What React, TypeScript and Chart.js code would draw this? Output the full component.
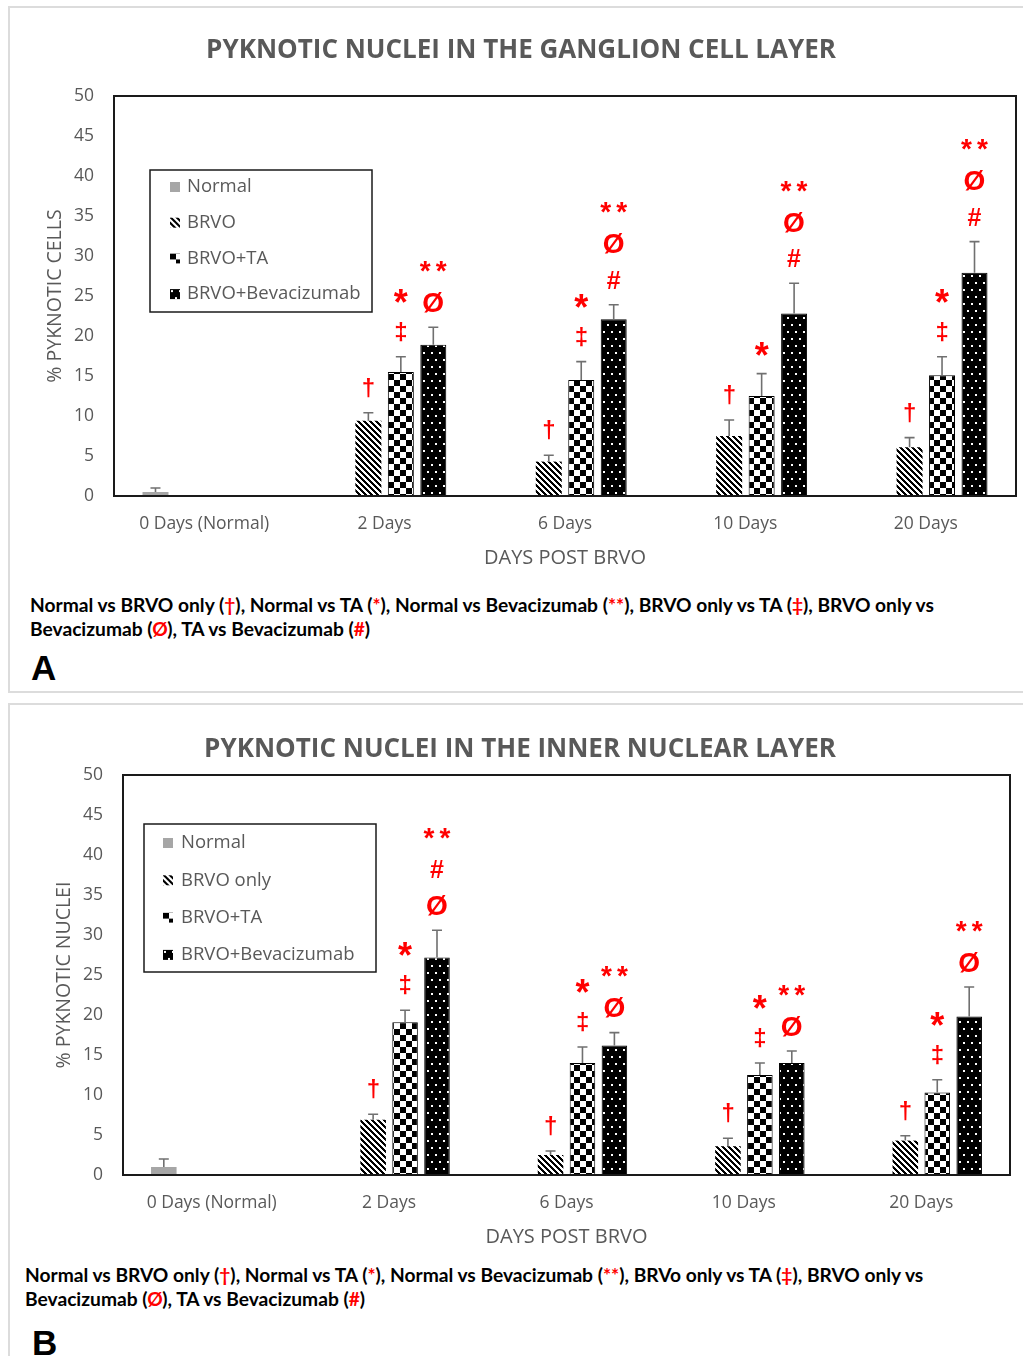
import React, { useEffect, useRef } from "react";
import { Chart, registerables } from "chart.js";
Chart.register(...registerables);

// ---------- shared ----------
const categories = ["0 Days (Normal)", "2 Days", "6 Days", "10 Days", "20 Days"];
const xAxisTitle = "DAYS POST BRVO";
const yMin = 0;
const yMax = 50;
const yStep = 5;

// ---------- panel A : ganglion cell layer ----------
const titleA = "PYKNOTIC NUCLEI IN THE GANGLION CELL LAYER";
const yTitleA = "% PYKNOTIC CELLS";
const seriesA = ["Normal", "BRVO", "BRVO+TA", "BRVO+Bevacizumab"];
const normalA = [0.5, null, null, null, null];
const brvoA = [null, 9.4, 4.3, 7.5, 6.1];
const taA = [null, 15.5, 14.5, 12.5, 15.1];
const bevA = [null, 18.9, 22.1, 22.8, 27.9];
const normalErrA = [0.5, 0, 0, 0, 0];
const brvoErrA = [0, 1.0, 0.8, 2.0, 1.2];
const taErrA = [0, 1.9, 2.3, 2.8, 2.3];
const bevErrA = [0, 2.2, 1.8, 3.8, 3.9];
const brvoSigA = [[], ["†"], ["†"], ["†"], ["†"]];
const taSigA = [[], ["*", "‡"], ["*", "‡"], ["*"], ["*", "‡"]];
const bevSigA = [[], ["**", "Ø"], ["**", "Ø", "#"], ["**", "Ø", "#"], ["**", "Ø", "#"]];

// ---------- panel B : inner nuclear layer ----------
const titleB = "PYKNOTIC NUCLEI IN THE INNER NUCLEAR LAYER";
const yTitleB = "% PYKNOTIC NUCLEI";
const seriesB = ["Normal", "BRVO only", "BRVO+TA", "BRVO+Bevacizumab"];
const normalB = [1.0, null, null, null, null];
const brvoB = [null, 6.9, 2.5, 3.6, 4.3];
const taB = [null, 19.1, 14.0, 12.5, 10.3];
const bevB = [null, 27.2, 16.2, 14.0, 19.8];
const normalErrB = [1.0, 0, 0, 0, 0];
const brvoErrB = [0, 0.7, 0.5, 1.0, 0.6];
const taErrB = [0, 1.5, 2.0, 1.5, 1.6];
const bevErrB = [0, 3.4, 1.6, 1.5, 3.7];
const brvoSigB = [[], ["†"], ["†"], ["†"], ["†"]];
const taSigB = [[], ["*", "‡"], ["*", "‡"], ["*", "‡"], ["*", "‡"]];
const bevSigB = [[], ["**", "#", "Ø"], ["**", "Ø"], ["**", "Ø"], ["**", "Ø"]];

const GRAY_TEXT = "#595959";
const FONT = "'Open Sans', 'DejaVu Sans', sans-serif";
const MARK_FONT = "'Liberation Sans', Arial, sans-serif";

type Panel = {
  title: string;
  yTitle: string;
  labels: string[];
  values: (number | null)[][];
  errs: number[][];
  sigs: string[][][];
  geo: any;
};

const panelA: Panel = {
  title: titleA,
  yTitle: yTitleA,
  labels: seriesA,
  values: [normalA, brvoA, taA, bevA],
  errs: [normalErrA, brvoErrA, taErrA, bevErrA],
  sigs: [[], brvoSigA, taSigA, bevSigA],
  geo: {
    left: 10, top: 8, width: 1013, height: 572,
    padTop: 88, padRight: 7, yAxisWidth: 104, xAxisHeight: 84,
    titleX: 511, titleY: 42.5, yTitlePad: 34, xTickPad: 18, xTitlePadBottom: 10,
    legend: { x: 140, y: 162, w: 222, h: 142, row0: 179, step: 35.7, swX: 160, txX: 177 },
  },
};

const panelB: Panel = {
  title: titleB,
  yTitle: yTitleB,
  labels: seriesB,
  values: [normalB, brvoB, taB, bevB],
  errs: [normalErrB, brvoErrB, taErrB, bevErrB],
  sigs: [[], brvoSigB, taSigB, bevSigB],
  geo: {
    left: 10, top: 705, width: 1013, height: 550,
    padTop: 70, padRight: 13, yAxisWidth: 113, xAxisHeight: 80,
    titleX: 510, titleY: 45, yTitlePad: 43, xTickPad: 18, xTitlePadBottom: 6,
    legend: { x: 134, y: 119, w: 232, h: 148, row0: 138, step: 37.3, swX: 153, txX: 171 },
  },
};

function makePattern(w: number, h: number, paint: (x: number, y: number) => boolean, on: number[], off: number[]) {
  const c = document.createElement("canvas");
  c.width = w;
  c.height = h;
  const ctx = c.getContext("2d")!;
  const img = ctx.createImageData(w, h);
  for (let y = 0; y < h; y++) {
    for (let x = 0; x < w; x++) {
      const i = (y * w + x) * 4;
      const col = paint(x, y) ? on : off;
      img.data[i] = col[0];
      img.data[i + 1] = col[1];
      img.data[i + 2] = col[2];
      img.data[i + 3] = 255;
    }
  }
  ctx.putImageData(img, 0, 0);
  return ctx.createPattern(c, "repeat")!;
}

function makeFills(): (string | CanvasPattern)[] {
  const black = [0, 0, 0];
  const white = [255, 255, 255];
  const stripes = makePattern(6, 6, (x, y) => ((x - y + 60) % 6) < 3, black, white);
  const checker = makePattern(12, 12, (x, y) => ((Math.floor(x / 6) + Math.floor(y / 6)) % 2) === 0, black, white);
  const dots = makePattern(
    8, 14,
    (x, y) => (x >= 1 && x <= 2 && y >= 1 && y <= 2) || (x >= 5 && x <= 6 && y >= 8 && y <= 9),
    white, black
  );
  return ["#a6a6a6", stripes, checker, dots];
}

function drawGlyph(ctx: CanvasRenderingContext2D, text: string, cx: number, cy: number, size: number) {
  ctx.font = `bold ${size}px ${MARK_FONT}`;
  ctx.textAlign = "left";
  ctx.textBaseline = "alphabetic";
  const m = ctx.measureText(text);
  const x = cx - (m.actualBoundingBoxRight - m.actualBoundingBoxLeft) / 2;
  const y = cy + (m.actualBoundingBoxAscent - m.actualBoundingBoxDescent) / 2;
  ctx.fillText(text, x, y);
}

const markSize: Record<string, number> = { "†": 24, "‡": 24, "Ø": 28, "#": 25, "*": 36, "**": 28 };

function drawMark(ctx: CanvasRenderingContext2D, mark: string, cx: number, cy: number) {
  if (mark === "**") {
    drawGlyph(ctx, "*", cx - 8, cy, markSize["**"]);
    drawGlyph(ctx, "*", cx + 8, cy, markSize["**"]);
  } else {
    drawGlyph(ctx, mark, cx, cy, markSize[mark] || 24);
  }
}

function buildChart(canvas: HTMLCanvasElement, p: Panel) {
  const g = p.geo;
  const fills = makeFills();
  const swatchFills = makeFills();

  const overlay = {
    id: "overlay",
    afterDatasetsDraw(chart: any) {
      const ctx: CanvasRenderingContext2D = chart.ctx;
      const ys = chart.scales.y;
      ctx.save();
      // error bars
      p.values.forEach((vals, di) => {
        const meta = chart.getDatasetMeta(di);
        meta.data.forEach((bar: any, ci: number) => {
          const v = vals[ci];
          const e = p.errs[di][ci];
          if (v == null || !e) return;
          const top = ys.getPixelForValue(v + e);
          ctx.strokeStyle = "#707070";
          ctx.lineWidth = 1.6;
          ctx.beginPath();
          ctx.moveTo(bar.x, bar.y);
          ctx.lineTo(bar.x, top);
          ctx.moveTo(bar.x - 5, top);
          ctx.lineTo(bar.x + 5, top);
          ctx.stroke();
        });
      });
      // plot frame
      const a = chart.chartArea;
      ctx.strokeStyle = "#1a1a1a";
      ctx.lineWidth = 2;
      ctx.strokeRect(a.left, a.top, a.right - a.left, a.bottom - a.top);
      // significance markers
      ctx.fillStyle = "#ff0000";
      p.values.forEach((vals, di) => {
        const list = p.sigs[di];
        if (!list || !list.length) return;
        const meta = chart.getDatasetMeta(di);
        meta.data.forEach((bar: any, ci: number) => {
          const marks = list[ci];
          const v = vals[ci];
          if (!marks || !marks.length || v == null) return;
          const top = ys.getPixelForValue(v + (p.errs[di][ci] || 0));
          const n = marks.length;
          for (let k = 0; k < n; k++) {
            const mark = marks[n - 1 - k];
            const cy = top - 25 - k * 36;
            drawMark(ctx, mark, bar.x, cy);
          }
        });
      });
      ctx.restore();
    },
    afterDraw(chart: any) {
      const ctx: CanvasRenderingContext2D = chart.ctx;
      ctx.save();
      // title
      ctx.fillStyle = GRAY_TEXT;
      ctx.font = `bold 26px ${FONT}`;
      ctx.textAlign = "center";
      ctx.textBaseline = "middle";
      ctx.fillText(p.title, g.titleX, g.titleY);
      // legend
      const L = g.legend;
      ctx.fillStyle = "#ffffff";
      ctx.fillRect(L.x, L.y, L.w, L.h);
      ctx.strokeStyle = "#1a1a1a";
      ctx.lineWidth = 1.5;
      ctx.strokeRect(L.x, L.y, L.w, L.h);
      p.labels.forEach((lab, i) => {
        const cy = L.row0 + i * L.step;
        const f: any = swatchFills[i];
        if (typeof f !== "string" && f.setTransform) {
          f.setTransform(new DOMMatrix().translate(L.swX, cy - 5));
        }
        ctx.fillStyle = f;
        ctx.fillRect(L.swX, cy - 5, 10, 10);
        ctx.fillStyle = GRAY_TEXT;
        ctx.font = `18.5px ${FONT}`;
        ctx.textAlign = "left";
        ctx.textBaseline = "middle";
        ctx.fillText(lab, L.txX, cy);
      });
      ctx.restore();
    },
  };

  return new Chart(canvas, {
    type: "bar",
    data: {
      labels: categories,
      datasets: p.values.map((vals, i) => ({
        label: p.labels[i],
        data: vals,
        backgroundColor: fills[i] as any,
        borderColor: "#000000",
        borderWidth: i >= 2 ? 1 : 0,
        barPercentage: 0.8,
        categoryPercentage: 0.72,
      })),
    },
    options: {
      responsive: false,
      animation: false,
      devicePixelRatio: 1,
      layout: { padding: { top: g.padTop, right: g.padRight, left: 0, bottom: 0 } },
      plugins: {
        legend: { display: false },
        title: { display: false },
        tooltip: { enabled: false },
      },
      scales: {
        x: {
          grid: { display: false, drawTicks: false },
          border: { display: false },
          ticks: {
            color: GRAY_TEXT,
            font: { family: FONT, size: 17.5 },
            padding: g.xTickPad,
            maxRotation: 0,
            autoSkip: false,
          },
          title: {
            display: true,
            text: xAxisTitle,
            color: GRAY_TEXT,
            font: { family: FONT, size: 20 },
            padding: { top: 0, bottom: g.xTitlePadBottom },
          },
          afterFit: (s: any) => {
            s.height = g.xAxisHeight;
          },
        },
        y: {
          min: yMin,
          max: yMax,
          grid: { display: false, drawTicks: false },
          border: { display: false },
          ticks: {
            stepSize: yStep,
            color: GRAY_TEXT,
            font: { family: FONT, size: 17.5 },
            padding: 20,
          },
          title: {
            display: true,
            text: p.yTitle,
            color: GRAY_TEXT,
            font: { family: FONT, size: 19.5 },
            padding: { top: g.yTitlePad, bottom: 0 },
          },
          afterFit: (s: any) => {
            s.width = g.yAxisWidth;
          },
        },
      },
    },
    plugins: [overlay],
  } as any);
}

function ChartCanvas({ panel }: { panel: Panel }) {
  const ref = useRef<HTMLCanvasElement>(null);
  useEffect(() => {
    if (!ref.current) return;
    const chart = buildChart(ref.current, panel);
    return () => chart.destroy();
  }, [panel]);
  const g = panel.geo;
  return (
    <canvas
      ref={ref}
      width={g.width}
      height={g.height}
      style={{ position: "absolute", left: g.left, top: g.top, width: g.width, height: g.height }}
    />
  );
}

const red = { color: "#ff0000" };
const captionStyle: React.CSSProperties = {
  position: "absolute",
  fontFamily: "Lato, 'Liberation Sans', sans-serif",
  fontWeight: 700,
  fontSize: 19.2,
  lineHeight: "24px",
  color: "#000",
  whiteSpace: "nowrap",
};
const letterStyle: React.CSSProperties = {
  position: "absolute",
  fontFamily: "'Liberation Sans', Arial, sans-serif",
  fontWeight: 700,
  fontSize: 35,
  lineHeight: "35px",
  color: "#000",
};

function Caption({ left, top, brvoWord }: { left: number; top: number; brvoWord: string }) {
  return (
    <div style={{ ...captionStyle, left, top }}>
      Normal vs BRVO only (<span style={red}>†</span>), Normal vs TA (<span style={red}>*</span>), Normal vs
      Bevacizumab (<span style={red}>**</span>), {brvoWord} only vs TA (<span style={red}>‡</span>), BRVO only vs
      <br />
      Bevacizumab (<span style={red}>Ø</span>), TA vs Bevacizumab (<span style={red}>#</span>)
    </div>
  );
}

export default function App() {
  return (
    <div
      style={{
        position: "absolute",
        left: 0,
        top: 0,
        width: 1023,
        height: 1356,
        overflow: "hidden",
        background: "#fff",
      }}
    >
      <div
        style={{
          position: "absolute",
          left: 8,
          top: 6,
          width: 1040,
          height: 687,
          border: "2px solid #dcdcdc",
          boxSizing: "border-box",
        }}
      />
      <div
        style={{
          position: "absolute",
          left: 8,
          top: 703,
          width: 1040,
          height: 720,
          border: "2px solid #dcdcdc",
          boxSizing: "border-box",
        }}
      />
      <ChartCanvas panel={panelA} />
      <ChartCanvas panel={panelB} />
      <Caption left={30} top={593} brvoWord="BRVO" />
      <Caption left={25} top={1263} brvoWord="BRVo" />
      <div style={{ ...letterStyle, left: 31, top: 650 }}>A</div>
      <div style={{ ...letterStyle, left: 32, top: 1325 }}>B</div>
    </div>
  );
}
